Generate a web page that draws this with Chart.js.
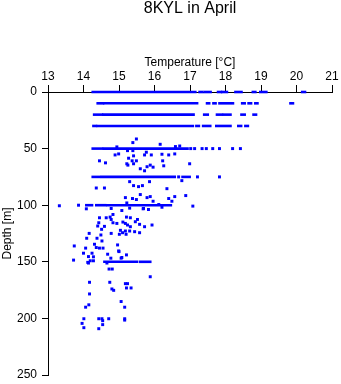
<!DOCTYPE html>
<html>
<head>
<meta charset="utf-8">
<script src="https://cdn.jsdelivr.net/npm/chart.js@4/dist/chart.umd.min.js"></script>
<style>
html,body{margin:0;padding:0;background:#fff;}
#wrap{width:341px;height:384px;}
</style>
</head>
<body>
<div id="wrap"><canvas id="c" width="341" height="384"></canvas></div>
<script>
// ---- data ----
const chartTitle = '8KYL in April';
const xTitle = 'Temperature [°C]';
const yTitle = 'Depth [m]';
const tempTicks = [13,14,15,16,17,18,19,20,21];
const depthTicks = [0,50,100,150,200,250];

// depths where the profiles were sampled densely (standard levels)
const rowDepths = [0,10,20,30,50,75,100,150];
// dense runs of samples at each standard level: [start temp, end temp]
const row0 = [[14.26,17.15],[17.27,17.34],[17.41,17.58],[17.79,17.87],[17.91,18.04],[18.28,18.45],[18.77,18.84],[18.98,19.15],[20.16,20.24]];
const row10 = [[14.40,14.55],[14.59,17.20],[17.48,17.54],[17.66,17.72],[17.83,18.21],[18.47,18.54],[18.65,18.72],[18.84,18.90],[19.83,19.90]];
const row20 = [[14.30,14.52],[14.56,17.10],[17.40,17.50],[17.76,17.90],[17.95,18.14],[18.45,18.54],[18.79,18.86]];
const row30 = [[14.28,14.35],[14.40,17.08],[17.18,17.25],[17.37,17.57],[17.74,18.14],[18.36,18.44],[18.56,18.63]];
const row50 = [[14.26,14.52],[14.57,16.93]];
const row75 = [[14.26,14.43],[14.50,16.57],[16.79,16.99]];
const row100 = [[14.08,14.24],[14.36,14.61],[14.67,16.46]];
const row150 = [[14.59,15.51],[15.60,15.88]];
const rowRuns = [row0,row10,row20,row30,row50,row75,row100,row150];

// individual samples
const sampleTemp = [
 15.49,15.39,14.94,16.16,16.71,16.59,
 14.89,14.99,15.24,15.39,15.41,15.72,15.77,15.91,16.21,16.40,16.57,
 15.27,14.45,14.62,15.22,15.25,15.37,15.49,15.41,15.88,15.79,15.96,15.60,15.72,16.23,16.26,16.99,
 17.02,17.13,17.34,17.46,17.64,17.83,18.20,18.42,
 16.68,17.21,17.83,
 16.77,14.36,14.59,15.30,15.41,15.55,15.66,15.86,16.35,
 15.60,15.18,15.38,15.49,15.79,15.88,15.96,16.57,16.88,16.40,16.49,16.12,
 13.32,13.86,17.08,
 14.08,14.78,15.08,15.22,15.30,15.68,15.83,16.21,15.69,
 14.83,14.45,14.64,14.75,14.78,14.43,14.83,14.94,15.11,15.21,15.32,15.52,15.46,15.18,15.24,15.32,15.58,15.72,15.93,
 14.40,14.59,14.51,15.04,15.10,15.18,15.30,15.44,15.58,14.78,15.01,15.20,14.16,14.49,14.38,14.09,14.52,14.31,
 14.36,14.55,14.45,14.96,14.99,13.74,14.06,14.00,14.24,14.14,14.28,14.68,15.21,13.72,14.19,14.28,14.14,14.66,
 14.77,15.06,15.00,15.08,14.81,14.72,14.12,
 15.88,14.17,14.74,15.18,15.24,14.80,14.85,15.21,15.34,14.17,15.06,15.16,14.15,14.06,
 14.01,14.43,14.52,14.54,14.71,15.16,15.16,13.96,14.54,14.01,14.43
];
const sampleDepth = [
 41.5,44.7,48.5,46.2,47.7,48.2,
 55.6,54.7,51.8,51.8,56.4,55.6,53.2,55.6,55.0,55.6,54.7,
 58.5,60.8,62.6,63.4,64.6,60.8,60.8,63.4,64.6,66.0,66.4,67.8,69.6,60.8,65.2,63.4,
 50,50,50,50,50,50,50,50,
 75,75,75,
 78.3,84.8,84.8,79.2,82.7,83.6,82.7,79.2,85.4,
 90.6,93.3,94.1,95.0,93.3,92.4,96.5,92.4,91.5,94.1,96.5,99.4,
 100.5,100,100.8,
 103.2,102.9,104.7,98.0,102.6,103.2,103.8,101.8,102.9,
 108.2,111.1,111.1,110.5,112.6,115.5,115.5,116.1,114.9,110.5,111.1,112.6,114.6,116.1,117.5,119.0,116.9,119.0,117.5,
 118.4,118.7,121.3,122.2,124.3,122.8,122.8,123.4,124.3,124.9,125.7,125.7,124.9,126.3,129.2,129.2,131.6,134.5,
 137.4,137.9,137.9,135.1,140.4,136.0,137.9,142.4,142.4,145.4,145.6,143.3,143.9,148.5,149.1,149.1,151.1,151.1,
 146.8,146.8,141.0,146.2,156.4,156.4,150.5,
 163.2,168.1,168.1,169.3,169.3,174.0,175.2,173.1,173.1,178.4,185.1,190.1,188.0,190.1,
 200.3,200.3,200.3,202.0,200.3,200.3,201.5,204.4,205.5,208.2,209.1
];

// ---- chart ----
const BLUE = '#0000ff';
Chart.defaults.font.family = "'Liberation Sans', Arial, Helvetica, sans-serif";
Chart.defaults.color = '#000';

const datasets = [];
rowRuns.forEach((runs, i) => {
  runs.forEach(r => {
    datasets.push({
      type: 'line',
      data: [{x: r[0], y: rowDepths[i]}, {x: r[1], y: rowDepths[i]}],
      borderColor: BLUE,
      borderWidth: 2.6,
      borderCapStyle: 'square',
      pointRadius: 0,
      showLine: true,
      fill: false,
      clip: 6
    });
  });
});
datasets.push({
  type: 'scatter',
  data: sampleTemp.map((t, i) => ({x: t, y: sampleDepth[i]})),
  pointStyle: 'rect',
  pointRadius: 2.1,
  borderWidth: 0,
  backgroundColor: BLUE,
  borderColor: BLUE,
  clip: 6
});

new Chart(document.getElementById('c'), {
  type: 'scatter',
  data: { datasets },
  options: {
    responsive: false,
    animation: false,
    events: [],
    layout: { padding: { left: 0, right: 9, top: 0, bottom: 9 } },
    plugins: {
      legend: { display: false },
      tooltip: { enabled: false },
      title: {
        display: true,
        text: chartTitle,
        fullSize: false,
        color: '#000',
        font: { size: 16, weight: 'normal', lineHeight: 1 },
        padding: { top: 1, bottom: 38 }
      }
    },
    scales: {
      x: {
        type: 'linear',
        position: 'top',
        min: tempTicks[0],
        max: tempTicks[tempTicks.length - 1],
        afterBuildTicks: s => { s.ticks = tempTicks.map(v => ({ value: v })); },
        afterFit: s => { s.height = 37; },
        ticks: { color: '#000', font: { size: 12 }, padding: 1, maxRotation: 0 },
        grid: { drawOnChartArea: false, drawTicks: true, tickLength: 7, color: '#000', tickWidth: 1 },
        border: { display: true, color: '#000', width: 1 },
        title: { display: true, text: xTitle, color: '#000', font: { size: 12 }, padding: { top: 0, bottom: 0 } }
      },
      y: {
        type: 'linear',
        reverse: true,
        min: depthTicks[0],
        max: depthTicks[depthTicks.length - 1],
        afterBuildTicks: s => { s.ticks = depthTicks.map(v => ({ value: v })); },
        afterFit: s => { s.width = 48; s.paddingTop = 0; s.paddingBottom = 0; },
        ticks: { color: '#000', font: { size: 12 }, padding: 5 },
        grid: { drawOnChartArea: false, drawTicks: true, tickLength: 6, color: '#000', tickWidth: 1 },
        border: { display: true, color: '#000', width: 1 },
        title: { display: true, text: yTitle, color: '#000', font: { size: 12 }, padding: { top: 0, bottom: 0 } }
      }
    }
  }
});
</script>
</body>
</html>
